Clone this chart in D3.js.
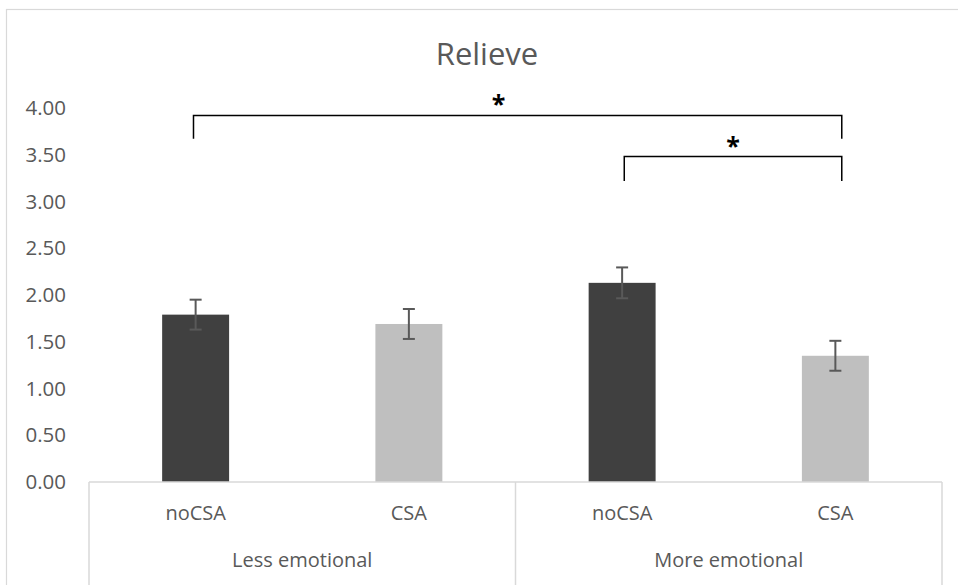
<!DOCTYPE html>
<html>
<head>
<meta charset="utf-8">
<script src="https://cdn.jsdelivr.net/npm/d3@7"></script>
<style>
  body { margin: 0; background: #fff; }
  text { font-family: "Open Sans", sans-serif; }
</style>
</head>
<body>
<div id="chart"></div>
<script>
// data
const groups = ["Less emotional", "More emotional"]
const conditions = ["noCSA", "CSA", "noCSA", "CSA"]
const means = [1.79, 1.69, 2.13, 1.35]
const errors = [0.16, 0.16, 0.165, 0.16]
const barColors = ["#404040", "#bfbfbf", "#404040", "#bfbfbf"]
const yTicks = [0, 0.5, 1, 1.5, 2, 2.5, 3, 3.5, 4]

// significance brackets, positions in bar-index units
const bracketFrom = [-0.01, 2.01]
const bracketTo = [3.03, 3.03]
const bracketTop = [3.92, 3.48]
const bracketFoot = [3.67, 3.22]
const starPos = [1.42, 2.52]
const starY = [4.09, 3.64]

const width = 958
const height = 585

let dims = {
    margin: { top: 108, right: 16, bottom: 103, left: 89 },
}
dims.boundedWidth = width - dims.margin.left - dims.margin.right
dims.boundedHeight = 482 - dims.margin.top

const svg = d3.select("#chart")
    .append("svg")
    .attr("width", width)
    .attr("height", height)

// outer chart border
svg.append("rect")
    .attr("x", 6.5)
    .attr("y", 9.5)
    .attr("width", width + 10)
    .attr("height", height + 10)
    .attr("fill", "none")
    .attr("stroke", "#d9d9d9")
    .attr("stroke-width", 1.2)

svg.append("text")
    .attr("x", 487)
    .attr("y", 65)
    .attr("text-anchor", "middle")
    .attr("font-size", 31)
    .attr("fill", "#595959")
    .text("Relieve")

const bounds = svg.append("g")
    .attr("transform", `translate(${dims.margin.left},${dims.margin.top})`)

const idx = d3.range(conditions.length)

const xScale = d3.scaleBand()
    .domain(idx)
    .range([0, dims.boundedWidth])
    .paddingInner(0.686)
    .paddingOuter(0.343)

const step = dims.boundedWidth / conditions.length
const xIdx = d3.scaleLinear()
    .domain([0, conditions.length - 1])
    .range([step / 2, dims.boundedWidth - step / 2])

const groupScale = d3.scaleBand()
    .domain(groups)
    .range([0, dims.boundedWidth])

const yScale = d3.scaleLinear()
    .domain([0, 4])
    .range([dims.boundedHeight, 0])

// y axis (labels only)
const yAxis = bounds.append("g")
    .call(d3.axisLeft(yScale)
        .tickValues(yTicks)
        .tickFormat(d3.format(".2f"))
        .tickSize(0)
        .tickPadding(23))
yAxis.select(".domain").remove()
yAxis.selectAll("text")
    .attr("font-size", 20.5)
    .attr("fill", "#595959")
    .attr("font-family", "Open Sans")

// bars
bounds.selectAll("rect.bar")
    .data(idx)
    .join("rect")
    .attr("class", "bar")
    .attr("x", i => xScale(i))
    .attr("y", i => yScale(means[i]))
    .attr("width", xScale.bandwidth())
    .attr("height", i => yScale(0) - yScale(means[i]))
    .attr("fill", i => barColors[i])

// error bars
const errG = bounds.append("g")
    .attr("stroke", "#595959")
    .attr("stroke-width", 2)
idx.forEach(i => {
    const cx = xScale(i) + xScale.bandwidth() / 2
    const hi = yScale(means[i] + errors[i])
    const lo = yScale(means[i] - errors[i])
    errG.append("line").attr("x1", cx).attr("x2", cx).attr("y1", hi).attr("y2", lo)
    errG.append("line").attr("x1", cx - 6).attr("x2", cx + 6).attr("y1", hi).attr("y2", hi)
    errG.append("line").attr("x1", cx - 6).attr("x2", cx + 6).attr("y1", lo).attr("y2", lo)
})

// category axis
const axisColor = "#d9d9d9"
bounds.append("line")
    .attr("x1", 0).attr("x2", dims.boundedWidth)
    .attr("y1", yScale(0)).attr("y2", yScale(0))
    .attr("stroke", axisColor).attr("stroke-width", 1.5)

const seps = [0, ...groups.map(g => groupScale(g) + groupScale.bandwidth())]
bounds.selectAll("line.sep")
    .data(seps)
    .join("line")
    .attr("class", "sep")
    .attr("x1", d => d).attr("x2", d => d)
    .attr("y1", yScale(0)).attr("y2", height)
    .attr("stroke", axisColor).attr("stroke-width", 1.5)

const xAxis = bounds.append("g")
    .attr("transform", `translate(0,${yScale(0)})`)
    .call(d3.axisBottom(xScale)
        .tickFormat(i => conditions[i])
        .tickSize(0)
        .tickPadding(24))
xAxis.select(".domain").remove()
xAxis.selectAll("text")
    .attr("font-size", 20)
    .attr("fill", "#595959")
    .attr("font-family", "Open Sans")

const gAxis = bounds.append("g")
    .attr("transform", `translate(0,${yScale(0)})`)
    .call(d3.axisBottom(groupScale)
        .tickSize(0)
        .tickPadding(71))
gAxis.select(".domain").remove()
gAxis.selectAll("text")
    .attr("font-size", 20)
    .attr("fill", "#595959")
    .attr("font-family", "Open Sans")

// significance brackets
const br = bounds.append("g")
    .attr("fill", "none")
    .attr("stroke", "#000")
    .attr("stroke-width", 1.5)
bracketFrom.forEach((f, k) => {
    const x1 = xIdx(f), x2 = xIdx(bracketTo[k])
    const yt = yScale(bracketTop[k]), yf = yScale(bracketFoot[k])
    br.append("path")
        .attr("d", `M${x1},${yf}V${yt}H${x2}V${yf}`)
    bounds.append("text")
        .attr("x", xIdx(starPos[k]))
        .attr("y", yScale(starY[k]))
        .attr("text-anchor", "middle")
        .attr("dy", "0.55em")
        .attr("font-size", 25)
        .attr("font-weight", "bold")
        .attr("fill", "#000")
        .text("*")
})
</script>
</body>
</html>
